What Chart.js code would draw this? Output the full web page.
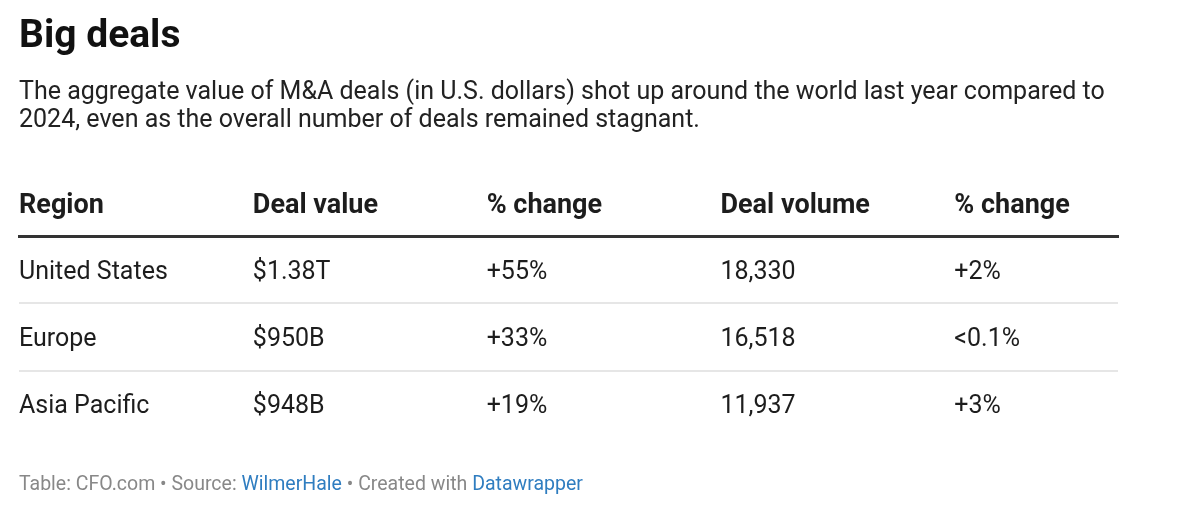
<!DOCTYPE html>
<html>
<head>
<meta charset="utf-8">
<script src="https://cdn.jsdelivr.net/npm/chart.js@4.4.1/dist/chart.umd.min.js"></script>
<style>
  html, body { margin: 0; padding: 0; background: #ffffff; }
  #wrap { position: relative; width: 1200px; height: 517px; }
</style>
</head>
<body>
<div id="wrap"><canvas id="c"></canvas></div>
<script>
// ---- data ----
const headers = ['Region', 'Deal value', '% change', 'Deal volume', '% change'];
const regions = ['United States', 'Europe', 'Asia Pacific'];
const dealValueBillions = [1380, 950, 948];
const dealValueChange = [55, 33, 19];
const dealVolume = [18330, 16518, 11937];
const dealVolumeChange = ['+2%', '<0.1%', '+3%'];

const titleText = 'Big deals';
const subtitleLines = [
  'The aggregate value of M&A deals (in U.S. dollars) shot up around the world last year compared to',
  '2024, even as the overall number of deals remained stagnant.'
];
const footerParts = [
  ['Table: CFO.com \u2022 Source: ', false],
  ['WilmerHale', true],
  [' \u2022 Created with ', false],
  ['Datawrapper', true]
];

// ---- formatting ----
const fmtValue = v => v >= 1000 ? '$' + (v / 1000).toFixed(2) + 'T' : '$' + v + 'B';
const fmtPct = v => (v > 0 ? '+' : '') + v + '%';
const fmtInt = v => v.toLocaleString('en-US');

const columns = [
  regions,
  dealValueBillions.map(fmtValue),
  dealValueChange.map(fmtPct),
  dealVolume.map(fmtInt),
  dealVolumeChange
];

const FONT = 'Roboto, "Noto Sans", sans-serif';
const CELL_SIZE = 25;
const TEXT = '#1d1d1d';

const cellPlugin = {
  id: 'cells',
  afterDatasetsDraw(chart) {
    const ctx = chart.ctx;
    ctx.save();
    ctx.font = CELL_SIZE + 'px ' + FONT;
    ctx.fillStyle = TEXT;
    ctx.textAlign = 'left';
    ctx.textBaseline = 'alphabetic';
    chart.data.datasets.forEach((ds, di) => {
      const meta = chart.getDatasetMeta(di);
      meta.data.forEach((pt, i) => {
        ctx.fillText(ds.cellText[i], pt.x, pt.y + CELL_SIZE * 0.36);
      });
    });
    ctx.restore();
  }
};

const footerPlugin = {
  id: 'footer',
  afterDraw(chart) {
    const ctx = chart.ctx;
    ctx.save();
    ctx.font = '19.5px ' + FONT;
    ctx.textAlign = 'left';
    ctx.textBaseline = 'alphabetic';
    let x = chart.chartArea.left;
    const y = chart.height - 27;
    footerParts.forEach(([t, link]) => {
      ctx.fillStyle = link ? '#2f7dc0' : '#888888';
      ctx.fillText(t, x, y);
      x += ctx.measureText(t).width;
    });
    ctx.restore();
  }
};

new Chart(document.getElementById('c'), {
  type: 'scatter',
  data: {
    datasets: columns.map((col, c) => ({
      label: headers[c],
      data: regions.map(r => ({ x: c, y: r })),
      cellText: col,
      pointRadius: 0,
      pointHoverRadius: 0,
      showLine: false
    }))
  },
  options: {
    responsive: true,
    maintainAspectRatio: false,
    animation: false,
    events: [],
    layout: { padding: { left: 19, right: 82, top: 0, bottom: 79 } },
    plugins: {
      legend: { display: false },
      tooltip: { enabled: false },
      title: {
        display: true,
        text: titleText,
        align: 'start',
        color: '#111111',
        font: { family: FONT, size: 39, weight: 'bold', lineHeight: 1.2 },
        padding: { top: 13.5, bottom: 0 }
      },
      subtitle: {
        display: true,
        text: subtitleLines,
        align: 'start',
        color: '#222222',
        font: { family: FONT, size: 25, weight: 'normal', lineHeight: 28 / 25 },
        padding: { top: 18.2, bottom: 41.5 }
      }
    },
    scales: {
      x: {
        type: 'linear',
        position: 'top',
        min: 0,
        max: 4.7,
        afterBuildTicks: s => { s.ticks = headers.map((h, i) => ({ value: i })); },
        ticks: {
          callback: v => headers[v],
          align: 'start',
          padding: 13.8,
          autoSkip: false,
          maxRotation: 0,
          color: TEXT,
          font: { family: FONT, size: 27, weight: 'bold', lineHeight: 1.2 }
        },
        grid: { display: false, drawTicks: false },
        border: { display: true, color: '#333333', width: 3 }
      },
      y: {
        type: 'category',
        labels: regions,
        offset: true,
        ticks: { display: false },
        grid: {
          offset: true,
          drawTicks: false,
          lineWidth: 2,
          color: c => (c.type === 'tick' && c.index > 0) ? '#e6e6e6' : 'rgba(0,0,0,0)'
        },
        border: { display: false }
      }
    }
  },
  plugins: [cellPlugin, footerPlugin]
});
</script>
</body>
</html>
